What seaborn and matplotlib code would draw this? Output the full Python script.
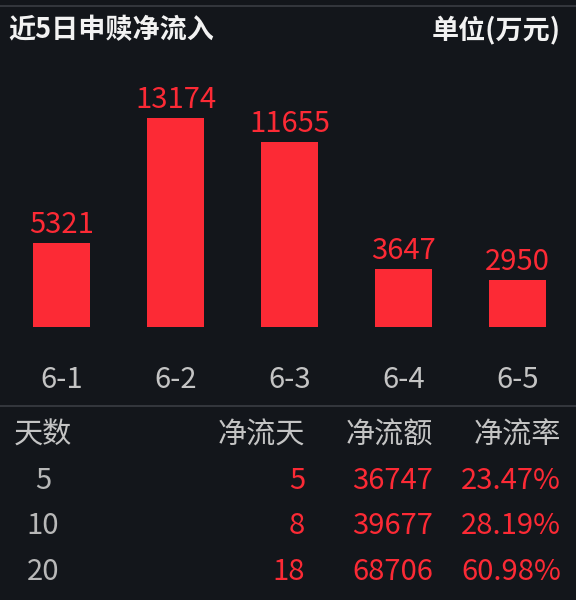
import matplotlib
matplotlib.use('Agg')
import matplotlib.pyplot as plt
import seaborn as sns
import pandas as pd

# ---- data ----
dates = ['6-1', '6-2', '6-3', '6-4', '6-5']
net_inflow = [5321, 13174, 11655, 3647, 2950]

period_days = [5, 10, 20]
net_days = [5, 8, 18]
net_amount = [36747, 39677, 68706]
net_rate = [23.47, 28.19, 60.98]

BG = '#13161b'
RED = '#fc2a35'
GRAY = '#c4c4c4'
LINE = '#3a3d43'
FS = 21

sns.set_theme(style='white')
plt.rcParams['font.family'] = ['Noto Sans CJK SC', 'DejaVu Sans']

fig = plt.figure(figsize=(5.76, 6.0), dpi=100, facecolor=BG)
W, H = 576, 600


def fx(px):
    return px / W


def fy(py):
    return 1 - py / H


# bar chart area
ax = fig.add_axes([fx(4.5), fy(327), fx(570), 267 / H])
ax.set_facecolor(BG)
df = pd.DataFrame({'date': dates, 'value': net_inflow})
sns.barplot(data=df, x='date', y='value', color=RED, width=0.5,
            saturation=1, linewidth=0, edgecolor=RED, ax=ax)
ax.set_xlim(-0.5, 4.5)
ax.set_ylim(0, max(net_inflow) * 267 / 209)
for c in ax.containers:
    ax.bar_label(c, fmt='%d', color=RED, fontsize=FS, padding=2)
for s in ax.spines.values():
    s.set_visible(False)
ax.set_xlabel('')
ax.set_ylabel('')
ax.set_yticks([])
ax.tick_params(axis='x', length=0, pad=27, labelsize=FS, labelcolor=GRAY)

# title row
fig.text(fx(8), fy(30), '近5日申赎净流入', color='#f2f2f2', fontsize=19.5,
         fontweight='bold', va='center', ha='left')
fig.text(fx(561), fy(30), '单位(万元)', color='#f2f2f2', fontsize=19.5,
         fontweight='bold', va='center', ha='right')

# separators
fig.add_artist(plt.Line2D([0, 1], [fy(6), fy(6)], color=LINE, lw=1.2))
fig.add_artist(plt.Line2D([0, 1], [fy(406), fy(406)], color=LINE, lw=1.2))

# table
hdr_y = 436
fig.text(fx(43), fy(hdr_y), '天数', color=GRAY, fontsize=FS, ha='center', va='center')
fig.text(fx(305), fy(hdr_y), '净流天', color=GRAY, fontsize=FS, ha='right', va='center')
fig.text(fx(433), fy(hdr_y), '净流额', color=GRAY, fontsize=FS, ha='right', va='center')
fig.text(fx(561), fy(hdr_y), '净流率', color=GRAY, fontsize=FS, ha='right', va='center')

row_y = [481, 526, 572]
for i, y in enumerate(row_y):
    fig.text(fx(43), fy(y), str(period_days[i]), color='#b8b8b8', fontsize=FS,
             ha='center', va='center')
    fig.text(fx(305), fy(y), str(net_days[i]), color=RED, fontsize=FS,
             ha='right', va='center')
    fig.text(fx(433), fy(y), str(net_amount[i]), color=RED, fontsize=FS,
             ha='right', va='center')
    fig.text(fx(561), fy(y), f'{net_rate[i]:.2f}%', color=RED, fontsize=FS,
             ha='right', va='center')

fig.savefig('out.png', dpi=100, facecolor=BG)
